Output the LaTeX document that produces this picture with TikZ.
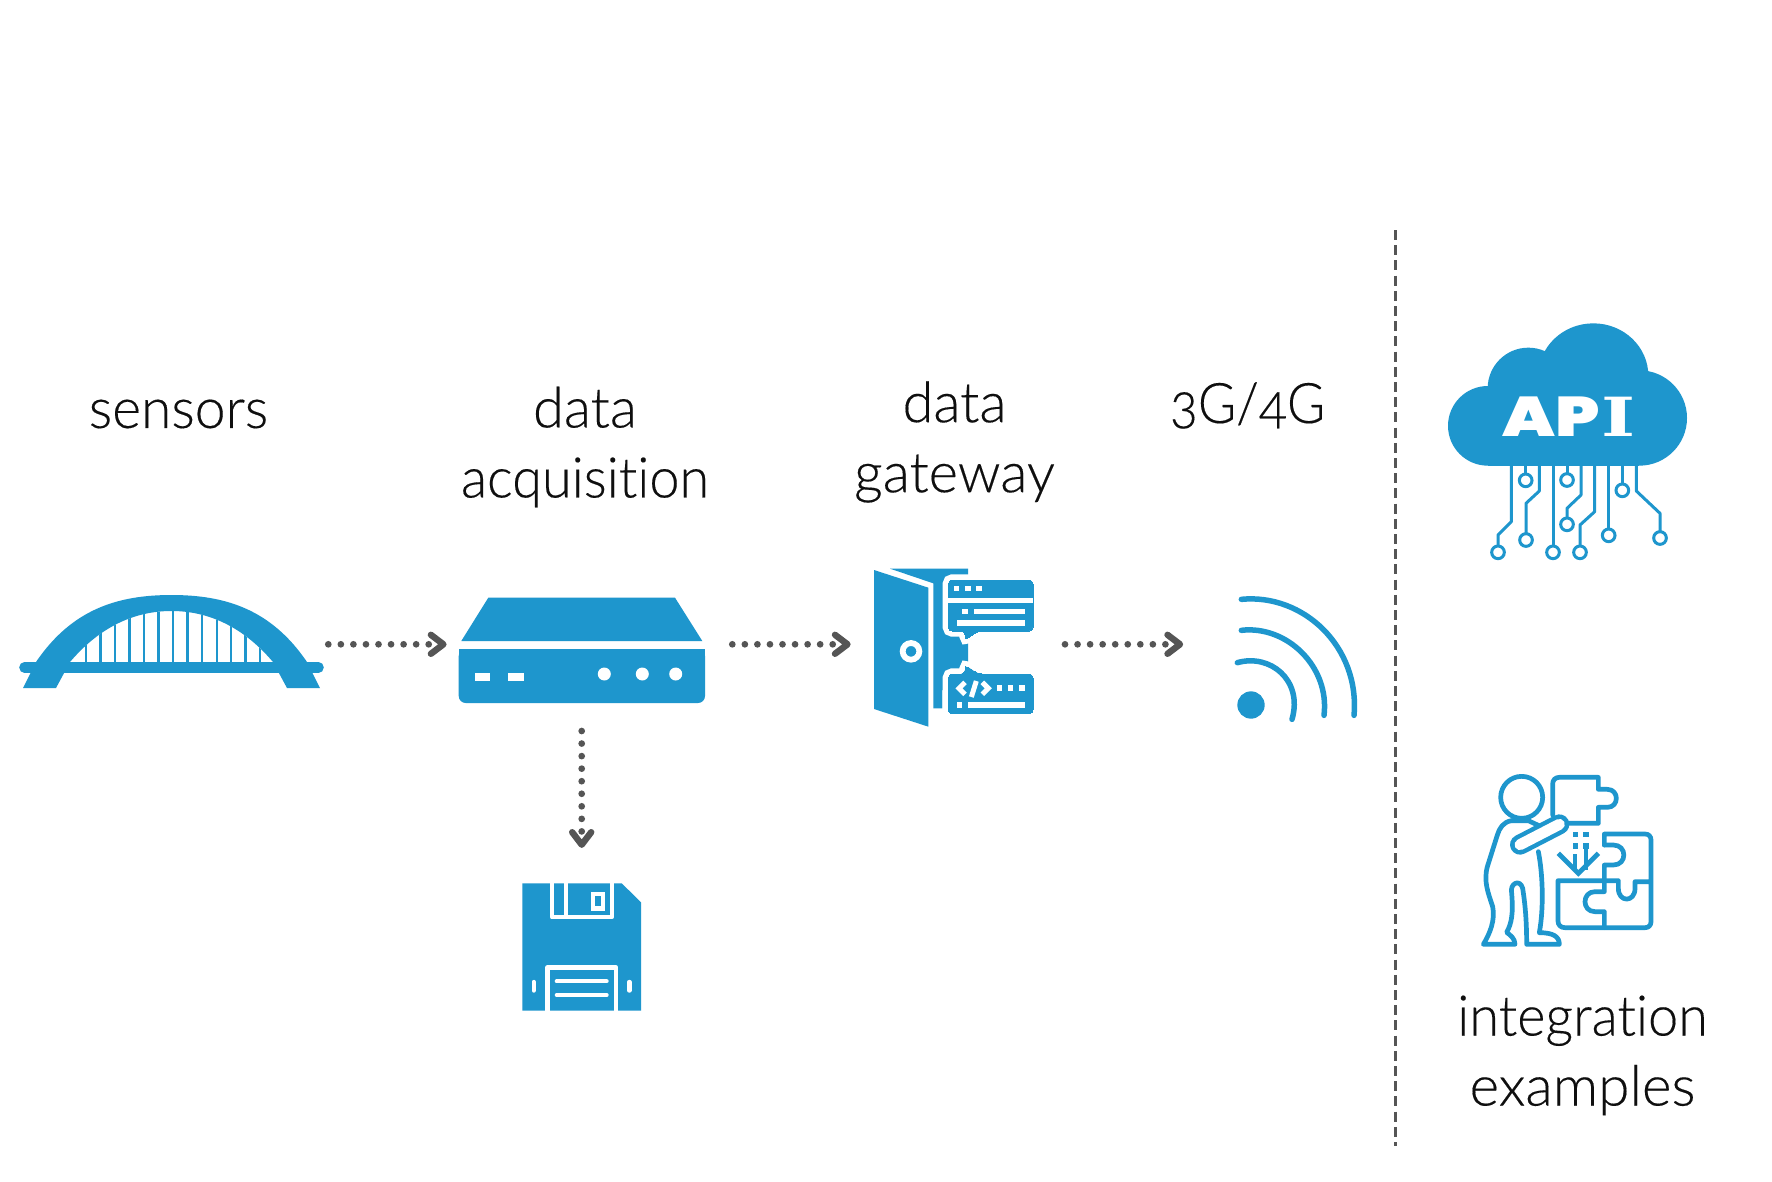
\documentclass[tikz,border=0pt]{standalone}
\usepackage{fontspec}
\usepackage{graphicx}
\usetikzlibrary{calc}
\setmainfont[Numbers=OldStyle,Ligatures=NoCommon,FakeBold=0.25]{Lato Light}
\newfontfamily\apifont{Poppins Black}
\newfontfamily\apislab{DejaVu Serif}
\definecolor{iconblue}{RGB}{30,150,205}
\definecolor{arrowgray}{RGB}{85,85,85}
\definecolor{labelblack}{RGB}{15,15,15}
\tikzset{
  label text/.style={font=\fontsize{56}{70}\selectfont,text=labelblack,align=center,inner sep=0pt},
  dot line/.style={arrowgray,line width=6.7pt,line cap=round,dash pattern=on 0pt off 12.55pt},
  chevron/.style={arrowgray,line width=6.4pt,line cap=round,line join=round},
  zoomed/.style={x=0.33333pt,y=-0.33333pt},
  iconfill/.style={fill=iconblue,draw=none},
  wline/.style={draw=white,line cap=round,line join=round},
  trace/.style={draw=iconblue,line width=3pt,line join=round},
  pad/.style={draw=iconblue,line width=3pt,fill=white},
  outline/.style={draw=iconblue,line width=4.7pt,line join=round,line cap=round},
}
\begin{document}
\begin{tikzpicture}[x=1pt,y=-1pt]
\useasboundingbox (0,0) rectangle (1772,1181);
\fill[white] (0,0) rectangle (1772,1181);

% labels
\node[label text] (sensors) at (178.5,414) {\scalebox{0.985}[1]{sensors}};
\node[label text] (acq) at (585,447) {data\\\scalebox{0.965}[1]{acquisition}};
\node[label text] (gate) at (954.5,442) {data\\gateway};
\node[label text,anchor=base,xscale=0.93] (net) at (1247.5,423) {3G/4G};
\node[label text] (integ) at (1582.5,1055.5) {\scalebox{0.965}[1]{integration}\\\scalebox{1.01}[1]{examples}};

% divider
\coordinate (divtop) at (1395,230);
\coordinate (divbot) at (1395,1146);
\draw[arrowgray,line width=3pt,dash pattern=on 10pt off 5.2pt] (divtop) -- (divbot);

% ---- bridge
\fill[iconblue] (23,688) -- (36,662) .. controls (72,609) and (118,595) .. (171.5,595)
  .. controls (225,595) and (271,609) .. (307,662) -- (320,688) -- (287,688) -- (273,662)
  .. controls (245,629) and (211,611) .. (171.5,611)
  .. controls (132,611) and (98,629) .. (70,662) -- (56,688) -- cycle;
\begin{scope}
\clip (70,662) .. controls (98,629) and (132,611) .. (171.5,611)
  .. controls (211,611) and (245,629) .. (273,662) -- cycle;
\foreach \hx in {85.7,100.3,114.7,129.3,143.7,158.3,173,187.3,202,216.7,231,245.3,259.7}
  \draw[iconblue,line width=2.4pt] (\hx,600) -- (\hx,665);
\end{scope}
\coordinate (deckl) at (24.5,667.4);
\coordinate (deckr) at (318.5,667.4);
\draw[iconblue,line width=10.6pt,line cap=round] (deckl) -- (deckr);

% ---- router
\fill[iconblue] (461.3,641) -- (488.3,597.7) -- (675,597.7) -- (702.3,641) -- cycle;
\fill[iconblue,rounded corners=7pt] (458.7,649) -- (458.7,703) -- (705,703) -- (705,649) -- cycle;
\fill[iconblue] (458.7,649) rectangle (705,670);
\fill[white] (474.7,672.7) rectangle (490,680.7);
\fill[white] (508.3,672.7) rectangle (523.7,680.7);
\fill[white] (604.3,674) circle[radius=6.5];
\fill[white] (642.3,674) circle[radius=6.5];
\fill[white] (675.7,674) circle[radius=6.5];

% ---- floppy
\fill[iconblue] (522.3,883.3) -- (621.7,883.3) -- (641,902.3) -- (641,1010.7) -- (522.3,1010.7) -- cycle;
\draw[white,line width=4.2pt,line join=round] (552,883.3) -- (552,917.3) -- (611.7,917.3) -- (611.7,883.3);
\draw[white,line width=4.3pt] (565.7,883.3) -- (565.7,917.3);
\draw[white,line width=4.4pt] (593,893.9) rectangle (603,908.5);
\draw[white,line width=4.4pt,line join=round] (547.5,1010.7) -- (547.5,967.5) -- (616,967.5) -- (616,1010.7);
\draw[wline,line width=4pt] (556.7,981.3) -- (606.7,981.3);
\draw[wline,line width=4pt] (556.7,995) -- (606.7,995);
\draw[wline,line width=4.4pt] (533.7,982) -- (533.7,990.5);
\draw[wline,line width=4.4pt] (629.3,982) -- (629.3,990.5);

% ---- door and bubbles
\begin{scope}[shift={(850,550)},zoomed]
\fill[iconblue] (120,56) -- (354,56) -- (354,420) -- (277,420) -- (277,475) -- (250,475) -- (250,100) -- cycle;
\fill[iconblue] (72,60) -- (235,113) -- (235,530) -- (72,477) -- cycle;
\draw[white,line width=5.8pt] (183,304) circle[radius=25];
\draw[iconblue,fill=iconblue,preaction={draw=white,line width=11.4pt},rounded corners=4pt,line width=0pt]
  (295,90) -- (549,90) -- (549,243) -- (385,243) -- (345,270) -- (345,243) -- (295,243) -- cycle;
\fill[white] (295,143) rectangle (549,158);
\foreach \sx in {311,345,379} \fill[white] (\sx,107) rectangle ++(17,17);
\fill[white] (337,176) rectangle (354,193);
\fill[white] (371,176) rectangle (525,193);
\fill[white] (320,210) rectangle (525,227);
\draw[iconblue,fill=iconblue,preaction={draw=white,line width=11.4pt},rounded corners=4pt,line width=0pt]
  (295,372) -- (345,372) -- (345,345) -- (385,372) -- (549,372) -- (549,491) -- (295,491) -- cycle;
\foreach \sx in {440,473,507} \fill[white] (\sx,406) rectangle ++(17,17);
\fill[white] (320,457) rectangle (337,474);
\fill[white] (354,457) rectangle (525,474);
\draw[white,line width=5pt,line join=miter] (345,397) -- (327,415) -- (345,433);
\draw[white,line width=5pt] (379,393) -- (364,441);
\draw[white,line width=5pt,line join=miter] (397,397) -- (415,415) -- (397,433);
\end{scope}

% ---- wifi
\begin{scope}[shift={(1180,580)},zoomed]
\fill[iconblue] (213,375) circle[radius=41];
\draw[iconblue,line width=5.5pt,line cap=round] (184,58) .. controls (370,40) and (540,200) .. (522,406);
\draw[iconblue,line width=5.5pt,line cap=round] (184,151) .. controls (320,135) and (450,260) .. (432,406);
\draw[iconblue,line width=5.5pt,line cap=round] (172,248) .. controls (270,220) and (370,300) .. (336,418);
\end{scope}

% ---- API cloud
\begin{scope}[shift={(1430,310)},zoomed]
\fill[iconblue] (173.5,347.5) circle[radius=119.5];
\fill[iconblue] (628,324) circle[radius=143];
\fill[iconblue] (490,197) circle[x radius=165,y radius=157];
\fill[iconblue] (295,235) circle[radius=122];
\fill[iconblue] (173.5,280) rectangle (628,467);
\node[font=\apifont\fontsize{56}{56}\selectfont,text=white,inner sep=0pt,anchor=base] (api) at (417,380) {\scalebox{1.22}[1]{AP}\hspace{1pt}{\apislab\bfseries\fontsize{54}{54}\selectfont\scalebox{1.35}[1]{I}}};
\draw[trace] (244,467) -- (244,635) -- (204,675) -- (204,708);
\draw[trace] (287,467) -- (287,492);
\draw[trace] (328,467) -- (328,543) -- (288,580) -- (288,671);
\draw[trace] (369,467) -- (369,708);
\draw[trace] (411,467) -- (411,491);
\draw[trace] (453,467) -- (453,555) -- (411,595) -- (411,624);
\draw[trace] (494,467) -- (494,605) -- (450,645) -- (450,708);
\draw[trace] (536,467) -- (536,657);
\draw[trace] (577,467) -- (577,522);
\draw[trace] (619,467) -- (619,543) -- (690,610) -- (690,665);
\foreach \px/\py in {204/727,287/511,288/690,369/727,411/510,411/643,450/727,536/676,577/541,690/684}
  \draw[pad] (\px,\py) circle[radius=19];
\end{scope}

% ---- person and puzzle
\begin{scope}[shift={(1470,760)},zoomed]
% upper piece
\draw[outline] (248,165) -- (248,72) .. controls (248,60) and (256,52) .. (268,52) -- (385,52) -- (385,88) -- (412,88)
  .. controls (448,88) and (448,142) .. (412,142) -- (385,142) -- (385,190) -- (285,190);
% lower pieces
\draw[outline] (403,255) -- (403,222) -- (525,222) .. controls (537,222) and (543,230) .. (543,240) -- (543,485)
  .. controls (543,497) and (535,503) .. (525,503) -- (285,503) .. controls (272,503) and (264,495) .. (264,483) -- (264,362) -- (445,362)
  -- (445,385) .. controls (445,428) and (495,428) .. (495,385) -- (495,365) -- (543,365);
\draw[outline] (403,255) -- (430,255) .. controls (472,255) and (472,315) .. (430,315) -- (403,315) -- (403,395)
  -- (375,395) .. controls (335,395) and (335,455) .. (375,455) -- (403,455) -- (403,503);
% body
\draw[outline] (125,182) .. controls (100,185) and (88,205) .. (82,225) -- (52,320)
  .. controls (40,365) and (55,400) .. (68,440) .. controls (76,480) and (60,520) .. (40,553)
  -- (135,553) .. controls (135,535) and (120,525) .. (110,517) .. controls (125,490) and (130,460) .. (125,400)
  .. controls (118,370) and (150,355) .. (158,385) .. controls (165,430) and (170,480) .. (170,553)
  -- (268,553) .. controls (268,530) and (250,518) .. (208,518) .. controls (222,440) and (218,340) .. (205,275);
\draw[outline] (125,182) -- (175,182) -- (205,196);
% arm
\draw[iconblue,line width=20pt,line cap=round] (150,254) -- (268,193);
\draw[white,line width=11pt,line cap=round] (150,254) -- (268,193);
% head
\draw[outline,fill=white] (155,112) circle[radius=63];
% arrow
\fill[iconblue] (308,216) rectangle ++(16,16);
\fill[iconblue] (340,216) rectangle ++(16,16);
\fill[iconblue] (308,250) rectangle ++(16,16);
\fill[iconblue] (340,250) rectangle ++(16,16);
\draw[iconblue,line width=4.2pt] (316,283) -- (316,330);
\draw[iconblue,line width=4.2pt] (348,250) -- (348,330);
\draw[iconblue,line width=4.7pt] (265,280) -- (325,340) -- (385,280);
\end{scope}

% ---- connectors
\coordinate (a1s) at (328.3,644.3);
\coordinate (a1e) at (428.8,644.3);
\coordinate (a1t) at (443.4,644.3);
\draw[dot line] (a1s) -- (a1e);
\draw[chevron] ($(a1t)+(-12.5,-9.5)$) -- (a1t) -- ($(a1t)+(-12.5,9.5)$);
\coordinate (a2s) at (732.3,644.3);
\coordinate (a2e) at (832.8,644.3);
\coordinate (a2t) at (847.5,644.3);
\draw[dot line] (a2s) -- (a2e);
\draw[chevron] ($(a2t)+(-12.5,-9.5)$) -- (a2t) -- ($(a2t)+(-12.5,9.5)$);
\coordinate (a3s) at (1065,644.3);
\coordinate (a3e) at (1165.5,644.3);
\coordinate (a3t) at (1180,644.3);
\draw[dot line] (a3s) -- (a3e);
\draw[chevron] ($(a3t)+(-12.5,-9.5)$) -- (a3t) -- ($(a3t)+(-12.5,9.5)$);
\coordinate (a4s) at (581.7,731);
\coordinate (a4e) at (581.7,831.7);
\coordinate (a4t) at (581.7,844.7);
\draw[dot line] (a4s) -- (a4e);
\draw[chevron] ($(a4t)+(-9.5,-12.5)$) -- (a4t) -- ($(a4t)+(9.5,-12.5)$);
\end{tikzpicture}
\end{document}
